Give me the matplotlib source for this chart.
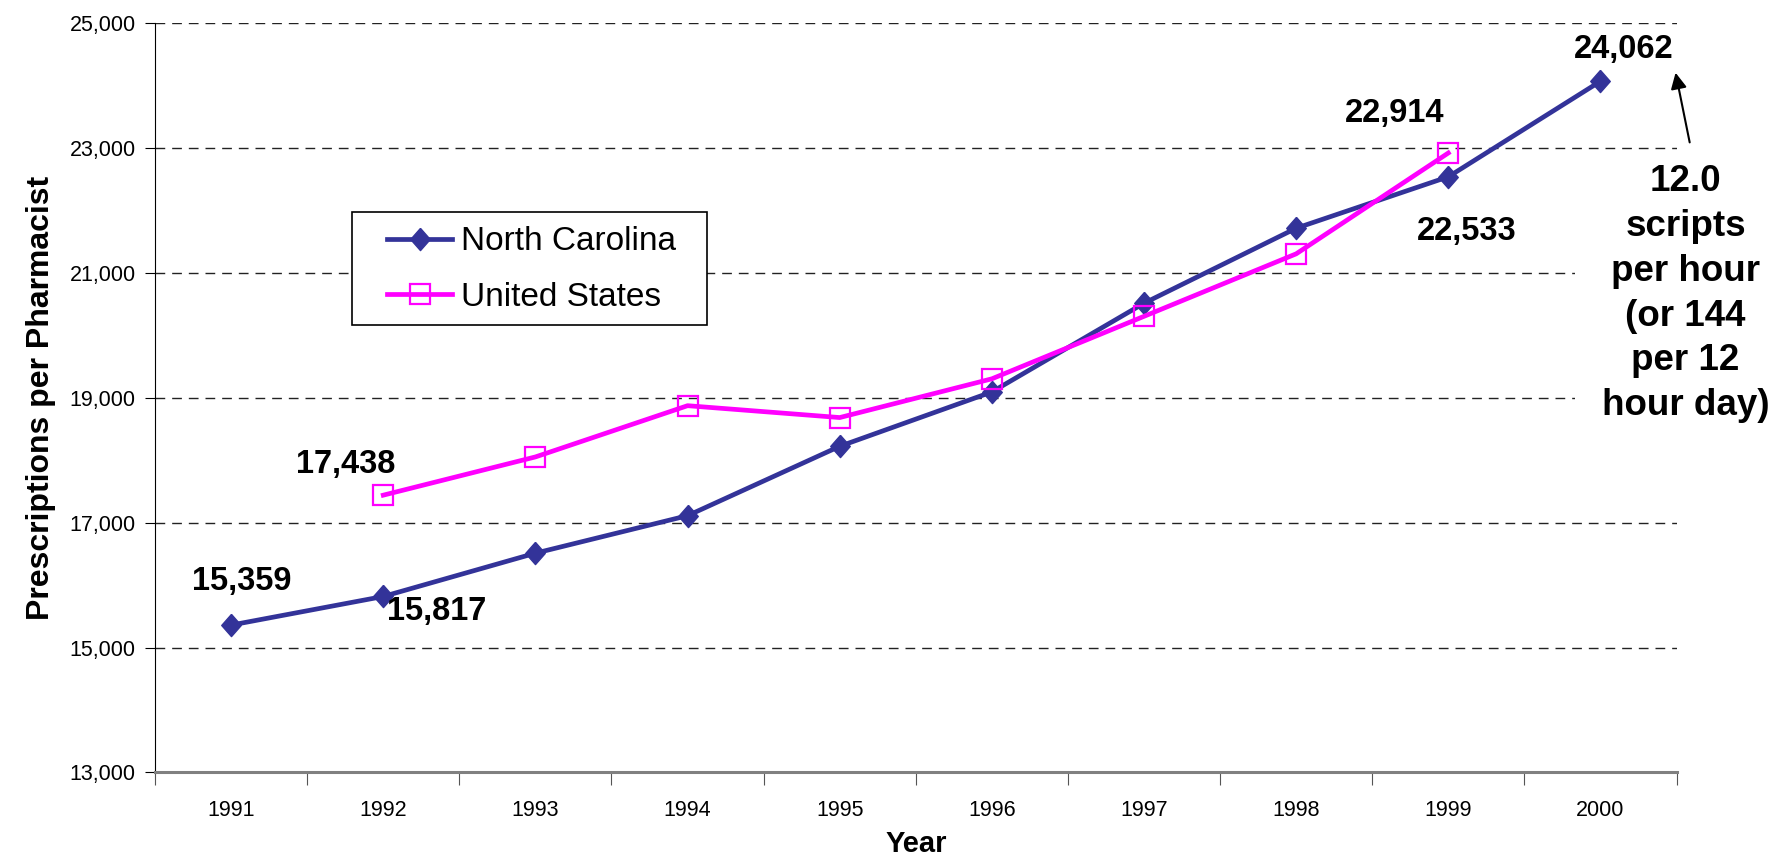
import matplotlib
matplotlib.use("Agg")
import matplotlib.pyplot as plt
from matplotlib.patches import Rectangle
from matplotlib.ticker import FuncFormatter

plt.rcParams['font.family'] = ['Liberation Sans', 'DejaVu Sans']

years = ['1991', '1992', '1993', '1994', '1995', '1996', '1997', '1998', '1999', '2000']
nc_values = [15359, 15817, 16510, 17110, 18220, 19090, 20510, 21710, 22533, 24062]
us_years = years[1:9]
us_values = [17438, 18050, 18870, 18680, 19300, 20300, 21300, 22914]

# labelled values: text, x (category index), y (data)
labels_txt = ['15,359', '15,817', '17,438', '22,914', '22,533', '24,062']
labels_x = [0.07, 1.35, 0.75, 7.65, 8.12, 9.15]
labels_y = [16064, 15573, 17930, 23549, 21665, 24565]

note = "12.0\nscripts\nper hour\n(or 144\nper 12\nhour day)"

navy = '#333399'
magenta = '#FF00FF'

# slightly tall diamond, like the stretched Excel marker
diamond = [(0, 1), (0.88, 0), (0, -1), (-0.88, 0), (0, 1)]

W, H = 1776, 857
fig = plt.figure(figsize=(W / 100, H / 100), dpi=100)
ax = fig.add_axes([0.0873, 0.0986, 0.8567, 0.875])

x_nc = list(range(len(years)))
x_us = [years.index(y) for y in us_years]

ax.plot(x_nc, nc_values, color=navy, lw=3.4, marker=diamond, ms=16,
        mfc=navy, mec=navy, label='North Carolina', zorder=3)
ax.plot(x_us, us_values, color=magenta, lw=3.4, marker='s', ms=14,
        mfc='none', mec=magenta, mew=1.6, label='United States', zorder=3)

ax.set_xlim(-0.5, len(years) - 0.5)
ax.set_ylim(13000, 25000)
ax.set_yticks(range(13000, 25001, 2000))
ax.yaxis.set_major_formatter(FuncFormatter(lambda v, p: f'{int(v):,}'))
ax.tick_params(axis='y', direction='out', length=7, labelsize=15.5, pad=7)

# ticks between categories, labels at category centres
ax.set_xticks([i - 0.5 for i in range(len(years) + 1)])
ax.set_xticklabels([])
ax.set_xticks(x_nc, minor=True)
ax.set_xticklabels(years, minor=True, fontsize=15.5)
ax.tick_params(axis='x', which='major', direction='out', length=9, color='#555555')
ax.tick_params(axis='x', which='minor', length=0, pad=20)

for yv in range(15000, 25001, 2000):
    ax.axhline(yv, color='#222222', lw=1, ls=(0, (7, 5)), zorder=1)

ax.spines['top'].set_visible(False)
ax.spines['right'].set_visible(False)
ax.spines['bottom'].set_color('#808080')
ax.spines['bottom'].set_linewidth(2.2)
ax.spines['left'].set_color('black')

ax.set_ylabel('Prescriptions per Pharmacist', fontsize=23, fontweight='bold', labelpad=10)
ax.set_xlabel('Year', fontsize=21, fontweight='bold', labelpad=6)

for t, xv, yv in zip(labels_txt, labels_x, labels_y):
    ax.text(xv, yv, t, fontsize=23.5, fontweight='bold', ha='center', va='center')

# white text box behind the note hides the grid lines, as in the original
ax.add_patch(Rectangle((1575 / W, 1 - 440 / H), 1 - 1575 / W, 285 / H,
                       transform=fig.transFigure, facecolor='white', edgecolor='none',
                       clip_on=False, zorder=2))
ax.text(9.56, 20662, note, fontsize=26.5, fontweight='bold', ha='center', va='center',
        linespacing=1.36, clip_on=False, zorder=4)
ax.annotate('', xy=(9.49, 24242), xytext=(9.59, 23040),
            arrowprops=dict(arrowstyle='-|>', color='black', lw=1.5, mutation_scale=24),
            annotation_clip=False, zorder=4)

# legend frame
ax.add_patch(Rectangle((352 / W, 1 - 325 / H), 355 / W, 113 / H,
                       transform=fig.transFigure, facecolor='white', edgecolor='black',
                       lw=1.2, clip_on=False, zorder=2))
leg = ax.legend(loc='center left', bbox_to_anchor=(387 / W, 1 - 269.5 / H),
                bbox_transform=fig.transFigure, fontsize=24, frameon=False,
                handlelength=1.95, borderpad=0, labelspacing=0.72,
                handletextpad=0.28, borderaxespad=0)

fig.savefig('out.png', dpi=100)
